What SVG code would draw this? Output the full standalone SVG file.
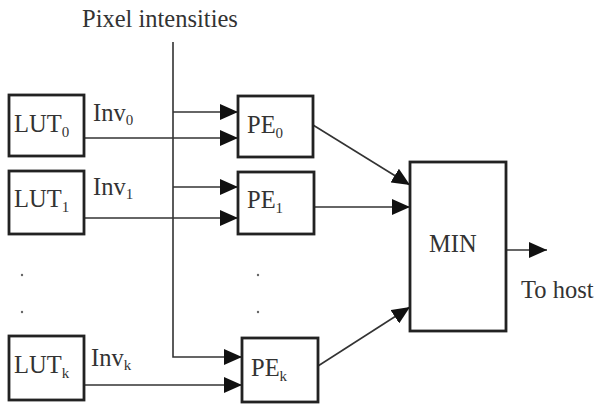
<svg xmlns="http://www.w3.org/2000/svg" width="595" height="406" viewBox="0 0 595 406">
<style>
.box{fill:#fff;stroke:#222;stroke-width:2.8}
.t{font-family:"Liberation Serif","Times New Roman",serif;font-size:24.5px;fill:#333}
.s{font-size:15px}
.ln{fill:none;stroke:#333;stroke-width:1.6}
.dot{fill:#666}
</style>
<defs>
<marker id="ah" markerUnits="userSpaceOnUse" markerWidth="18" markerHeight="16" viewBox="0 0 18 16" refX="18" refY="8" orient="auto">
<path d="M0,0 L18,8 L0,16 Z" fill="#111"/>
</marker>
</defs>
<rect width="595" height="406" fill="#fff"/>
<text class="t" x="82" y="27">Pixel intensities</text>
<g id="connectors">
<path class="ln" d="M173,42 V357 H242" marker-end="url(#ah)"/>
<path class="ln" d="M173,112 H238" marker-end="url(#ah)"/>
<path class="ln" d="M173,187 H238" marker-end="url(#ah)"/>
<path class="ln" d="M84,138 H238" marker-end="url(#ah)"/>
<path class="ln" d="M84,218 H238" marker-end="url(#ah)"/>
<path class="ln" d="M84,385 H242" marker-end="url(#ah)"/>
<path class="ln" d="M313,125 L410,185" marker-end="url(#ah)"/>
<path class="ln" d="M314,207 H410" marker-end="url(#ah)"/>
<path class="ln" d="M318,366 L410,307" marker-end="url(#ah)"/>
<path class="ln" d="M506,250 H547" marker-end="url(#ah)"/>
</g>
<g id="lut0"><rect class="box" x="9" y="95" width="75" height="61"/><text class="t" x="14" y="132">LUT<tspan class="s" dy="5">0</tspan></text></g>
<g id="lut1"><rect class="box" x="9" y="171" width="75" height="63"/><text class="t" x="14" y="207">LUT<tspan class="s" dy="5">1</tspan></text></g>
<g id="lutk"><rect class="box" x="9" y="336" width="75" height="64"/><text class="t" x="14" y="373">LUT<tspan class="s" dy="5">k</tspan></text></g>
<text class="t" x="93" y="121">Inv<tspan class="s" dy="4">0</tspan></text>
<text class="t" x="93" y="195">Inv<tspan class="s" dy="4">1</tspan></text>
<text class="t" x="91" y="366">Inv<tspan class="s" dy="4">k</tspan></text>
<g id="pe0"><rect class="box" x="238" y="96" width="75" height="61"/><text class="t" x="247" y="133">PE<tspan class="s" dy="5">0</tspan></text></g>
<g id="pe1"><rect class="box" x="238" y="172" width="76" height="62"/><text class="t" x="247" y="208">PE<tspan class="s" dy="5">1</tspan></text></g>
<g id="pek"><rect class="box" x="242" y="338" width="76" height="64"/><text class="t" x="251" y="376">PE<tspan class="s" dy="5">k</tspan></text></g>
<g id="min"><rect class="box" x="410" y="162" width="96" height="169"/><text class="t" x="429" y="252">MIN</text></g>
<text class="t" x="521" y="298">To host</text>
<g id="dots">
<circle class="dot" cx="22" cy="275" r="1.2"/><circle class="dot" cx="22" cy="312" r="1.2"/>
<circle class="dot" cx="258" cy="275" r="1.2"/><circle class="dot" cx="258" cy="312" r="1.2"/>
</g>
</svg>
